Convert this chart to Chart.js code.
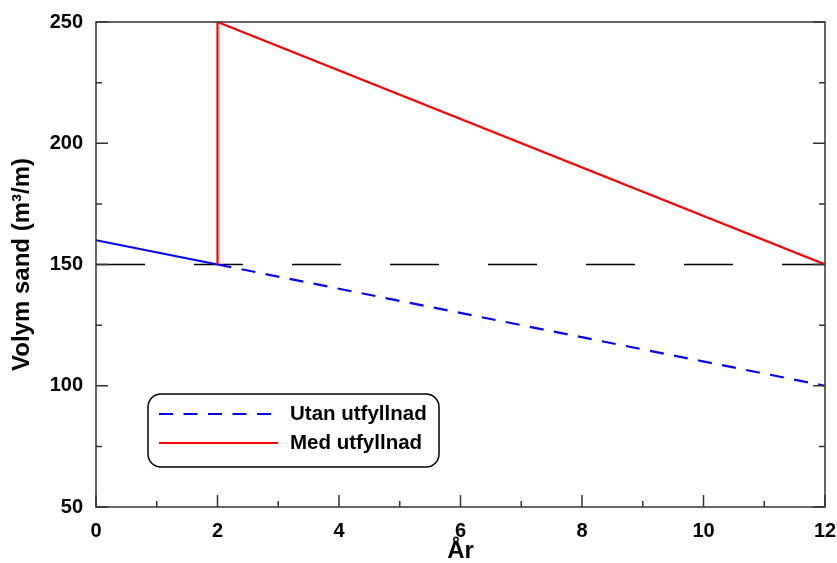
<!DOCTYPE html>
<html>
<head>
<meta charset="utf-8">
<script src="https://cdn.jsdelivr.net/npm/chart.js@4"></script>
<style>
  body { margin: 0; background: #fff; }
  #c { display: block; }
</style>
</head>
<body>
<canvas id="c" width="837" height="563"></canvas>
<script>
// sand volume per metre of beach, with and without nourishment
const utanX = [0, 2, 12];
const utanY = [160, 150, 100];
const medX = [2, 2, 12];
const medY = [150, 250, 150];
const gransX = [0, 12];
const gransY = [150, 150];
const xTicks = [0, 2, 4, 6, 8, 10, 12];
const yTicks = [50, 100, 150, 200, 250];
const seriesNames = ['Utan utfyllnad', 'Med utfyllnad'];

const FONT = "Arial, 'Liberation Sans', sans-serif";
const utanDash = [14, 10.5];

function pts(xs, ys) {
  return xs.map((x, i) => ({ x: x, y: ys[i] }));
}

// box around the plot plus inward tick marks
const framePlugin = {
  id: 'frame',
  afterDatasetsDraw(chart) {
    const ctx = chart.ctx;
    const a = chart.chartArea;
    const xs = chart.scales.x, ys = chart.scales.y;
    ctx.save();
    ctx.strokeStyle = '#333';
    ctx.lineWidth = 1.5;
    ctx.strokeRect(a.left, a.top, a.right - a.left, a.bottom - a.top);
    ctx.beginPath();
    for (let v = 0; v <= 12; v++) {
      const px = xs.getPixelForValue(v);
      const len = v % 2 === 0 ? 12 : 6;
      ctx.moveTo(px, a.bottom);
      ctx.lineTo(px, a.bottom - len);
    }
    for (let v = 50; v <= 250; v += 25) {
      const py = ys.getPixelForValue(v);
      const len = v % 50 === 0 ? 12 : 6;
      ctx.moveTo(a.left, py);
      ctx.lineTo(a.left + len, py);
      ctx.moveTo(a.right, py);
      ctx.lineTo(a.right - len, py);
    }
    ctx.stroke();
    ctx.restore();
  }
};

// rounded legend box inside the plot
const legendBox = {
  id: 'legendBox',
  afterDraw(chart) {
    const ctx = chart.ctx;
    const x0 = 148, y0 = 394, w = 291, h = 73;
    ctx.save();
    ctx.fillStyle = '#fff';
    ctx.strokeStyle = '#000';
    ctx.lineWidth = 1.5;
    ctx.beginPath();
    ctx.roundRect(x0, y0, w, h, 13);
    ctx.fill();
    ctx.stroke();
    const rows = [
      { ds: chart.data.datasets[0], dash: utanDash, y: 414 },
      { ds: chart.data.datasets[1], dash: [], y: 443 }
    ];
    ctx.font = 'bold 20.5px ' + FONT;
    ctx.textBaseline = 'middle';
    rows.forEach(r => {
      ctx.strokeStyle = r.ds.borderColor;
      ctx.lineWidth = 2;
      ctx.setLineDash(r.dash);
      ctx.beginPath();
      ctx.moveTo(159, r.y);
      ctx.lineTo(278, r.y);
      ctx.stroke();
      ctx.setLineDash([]);
      ctx.fillStyle = '#000';
      ctx.fillText(r.ds.label, 290, r.y);
    });
    ctx.restore();
  }
};

new Chart(document.getElementById('c'), {
  type: 'line',
  data: {
    datasets: [
      {
        label: seriesNames[0],
        data: pts(utanX, utanY),
        borderColor: '#0000ff',
        borderWidth: 2.2,
        pointRadius: 0,
        segment: {
          borderDash: c => c.p0.parsed.x >= 2 ? utanDash : []
        },
        order: 2
      },
      {
        label: seriesNames[1],
        data: pts(medX, medY),
        borderColor: '#ff0000',
        borderWidth: 2.2,
        pointRadius: 0,
        order: 1
      },
      {
        label: 'gräns',
        data: pts(gransX, gransY),
        borderColor: '#000',
        borderWidth: 1.5,
        borderDash: [49, 49],
        pointRadius: 0,
        order: 3
      }
    ]
  },
  options: {
    responsive: false,
    animation: false,
    layout: { padding: { top: 22, right: 12, left: 0, bottom: 0 } },
    plugins: {
      legend: { display: false },
      tooltip: { enabled: false }
    },
    scales: {
      x: {
        type: 'linear',
        min: 0,
        max: 12,
        afterBuildTicks: s => { s.ticks = xTicks.map(v => ({ value: v })); },
        afterFit: s => {
          s.height = 56;
          s.paddingLeft = 0;
          s.paddingRight = 0;
        },
        grid: { display: false, drawTicks: false },
        border: { display: false },
        ticks: {
          padding: 12,
          color: '#000',
          font: { family: FONT, size: 20, weight: 'bold' }
        },
        title: {
          display: true,
          text: 'År',
          color: '#000',
          padding: { top: 0, bottom: 0 },
          font: { family: FONT, size: 24, weight: 'bold', lineHeight: 1 }
        }
      },
      y: {
        type: 'linear',
        min: 50,
        max: 250,
        afterBuildTicks: s => { s.ticks = yTicks.map(v => ({ value: v })); },
        afterFit: s => {
          s.width = 96;
          s.paddingTop = 0;
          s.paddingBottom = 0;
        },
        grid: { display: false, drawTicks: false },
        border: { display: false },
        ticks: {
          padding: 13,
          color: '#000',
          font: { family: FONT, size: 20, weight: 'bold' }
        },
        title: {
          display: true,
          text: 'Volym sand (m³/m)',
          color: '#000',
          padding: { top: 10, bottom: 0 },
          font: { family: FONT, size: 24, weight: 'bold', lineHeight: 1 }
        }
      }
    }
  },
  plugins: [framePlugin, legendBox]
});
</script>
</body>
</html>
